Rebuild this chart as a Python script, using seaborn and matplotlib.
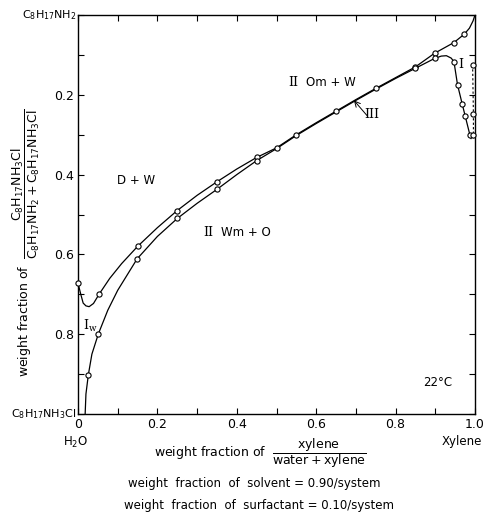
import numpy as np
import pandas as pd
import matplotlib
matplotlib.use("Agg")
import matplotlib.pyplot as plt
import seaborn as sns

# ---- data ----
# upper boundary curve (trace)
upper_x = [0.0, 0.007, 0.013, 0.02, 0.028, 0.039, 0.053, 0.08, 0.11, 0.15, 0.2, 0.25, 0.3, 0.35,
           0.4, 0.45, 0.5, 0.55, 0.6, 0.65, 0.7, 0.75, 0.8, 0.85, 0.898, 0.947, 0.973, 0.986, 0.995, 1.0]
upper_y = [0.672, 0.70, 0.722, 0.729, 0.731, 0.723, 0.70, 0.66, 0.623, 0.58, 0.533, 0.49, 0.452, 0.418,
           0.386, 0.357, 0.333, 0.30, 0.27, 0.241, 0.212, 0.184, 0.157, 0.13, 0.096, 0.069, 0.048, 0.033, 0.015, 0.0]
# lower boundary curve (trace)
lower_x = [0.018, 0.02, 0.026, 0.035, 0.051, 0.075, 0.1, 0.149, 0.2, 0.25, 0.3, 0.35, 0.4, 0.45, 0.5,
           0.55, 0.6, 0.65, 0.7, 0.75, 0.8, 0.849, 0.898, 0.915, 0.928, 0.94, 0.947, 0.956, 0.968, 0.975, 0.987, 0.99]
lower_y = [1.0, 0.95, 0.902, 0.85, 0.80, 0.74, 0.69, 0.611, 0.555, 0.51, 0.472, 0.437, 0.40, 0.365, 0.335,
           0.302, 0.272, 0.243, 0.214, 0.186, 0.159, 0.134, 0.109, 0.103, 0.102, 0.108, 0.117, 0.175, 0.224, 0.252, 0.30, 0.31]
# measured points (open circles)
pts_upper_x = [0.0, 0.053, 0.15, 0.25, 0.35, 0.45, 0.5, 0.55, 0.65, 0.75, 0.849, 0.898, 0.947, 0.973]
pts_upper_y = [0.672, 0.70, 0.58, 0.49, 0.418, 0.357, 0.333, 0.30, 0.241, 0.184, 0.13, 0.096, 0.069, 0.048]
pts_lower_x = [0.026, 0.051, 0.149, 0.25, 0.35, 0.45, 0.849, 0.898, 0.947, 0.956, 0.968, 0.975, 0.987]
pts_lower_y = [0.902, 0.80, 0.611, 0.51, 0.437, 0.365, 0.134, 0.109, 0.117, 0.175, 0.224, 0.252, 0.30]
# right edge (I_o) points joined by dashed line
edge_x = [0.994, 0.996, 0.996, 0.996]
edge_y = [0.125, 0.248, 0.30, 0.31]

x_ticks = [0.0, 0.1, 0.2, 0.3, 0.4, 0.5, 0.6, 0.7, 0.8, 0.9, 1.0]
x_labels = ["0", "", "0.2", "", "0.4", "", "0.6", "", "0.8", "", "1.0"]
y_ticks = [0.0, 0.1, 0.2, 0.3, 0.4, 0.5, 0.6, 0.7, 0.8, 0.9, 1.0]
y_labels = ["", "", "0.2", "", "0.4", "", "0.6", "", "0.8", "", ""]

sns.set_style("ticks")
plt.rcParams["font.family"] = ["DejaVu Sans"]
plt.rcParams["mathtext.default"] = "regular"
for k in ["text.color", "axes.labelcolor", "xtick.color", "ytick.color", "axes.edgecolor"]:
    plt.rcParams[k] = "black"

W, H = 485, 524
fig = plt.figure(figsize=(W / 100, H / 100), dpi=100)
ax = fig.add_axes([78 / W, 1 - 414 / H, 397 / W, 399 / H])

df_u = pd.DataFrame({"x": upper_x, "y": upper_y})
df_l = pd.DataFrame({"x": lower_x, "y": lower_y})
sns.lineplot(data=df_u, x="x", y="y", sort=False, estimator=None, color="black", lw=0.9, ax=ax)
sns.lineplot(data=df_l, x="x", y="y", sort=False, estimator=None, color="black", lw=0.9, ax=ax)
df_e = pd.DataFrame({"x": edge_x, "y": edge_y})
sns.lineplot(data=df_e, x="x", y="y", sort=False, estimator=None, color="black", lw=0.8,
             linestyle=(0, (2, 2)), ax=ax)

pts = pd.DataFrame({"x": pts_upper_x + pts_lower_x + edge_x[:3],
                    "y": pts_upper_y + pts_lower_y + edge_y[:3]})
sns.scatterplot(data=pts, x="x", y="y", s=14, facecolor="white", edgecolor="black",
                linewidth=0.8, zorder=5, ax=ax, clip_on=False)

ax.set_xlim(0, 1)
ax.set_ylim(1, 0)
ax.set_xticks(x_ticks)
ax.set_xticklabels(x_labels, fontsize=9)
ax.set_yticks(y_ticks)
ax.set_yticklabels(y_labels, fontsize=9)
ax.tick_params(direction="in", length=4, width=0.8, top=True, right=True, pad=3)
for s in ax.spines.values():
    s.set_linewidth(1.0)
ax.set_xlabel("")
ax.set_ylabel(r"weight fraction of  $\dfrac{C_8H_{17}NH_3Cl}{C_8H_{17}NH_2 + C_8H_{17}NH_3Cl}$",
              fontsize=9)
ax.yaxis.set_label_coords(-0.09, 0.43)

# in-plot labels
ax.text(0.146, 0.414, "D + W", fontsize=8.5, ha="center", va="center")
ax.text(0.53, 0.17, "II", family="DejaVu Serif", fontsize=9, ha="left", va="center")
ax.text(0.575, 0.17, "Om + W", fontsize=8.5, ha="left", va="center")
ax.text(0.315, 0.546, "II", family="DejaVu Serif", fontsize=9, ha="left", va="center")
ax.text(0.36, 0.546, "Wm + O", fontsize=8.5, ha="left", va="center")
ax.text(0.013, 0.78, r"I$_w$", family="DejaVu Serif", fontsize=9, ha="left", va="center")
ax.text(0.965, 0.125, "I", family="DejaVu Serif", fontsize=9, ha="center", va="center")
ax.text(0.74, 0.25, "III", family="DejaVu Serif", fontsize=9, ha="center", va="center")
ax.annotate("", xy=(0.695, 0.214), xytext=(0.728, 0.252),
            arrowprops=dict(arrowstyle="->", lw=0.7, color="black", shrinkA=0, shrinkB=0))
ax.text(0.905, 0.922, "22°C", fontsize=8.5, ha="center", va="center")

# figure texts (pixel positions converted)
def ft(x, y, s, **kw):
    fig.text(x / W, 1 - y / H, s, **kw)

ft(76, 15, r"C$_8$H$_{17}$NH$_2$", fontsize=8, ha="right", va="center")
ft(76, 414, r"C$_8$H$_{17}$NH$_3$Cl", fontsize=8, ha="right", va="center")
ft(76, 442, r"H$_2$O", fontsize=8.5, ha="center", va="center")
ft(462, 442, "Xylene", fontsize=8.5, ha="center", va="center")
ft(260, 453, r"weight fraction of  $\dfrac{xylene}{water + xylene}$", fontsize=9, ha="center", va="center")
ft(254, 484, "weight  fraction  of  solvent = 0.90/system", fontsize=8.5, ha="center", va="center")
ft(259, 505, "weight  fraction  of  surfactant = 0.10/system", fontsize=8.5, ha="center", va="center")

fig.savefig("out.png", dpi=100)
